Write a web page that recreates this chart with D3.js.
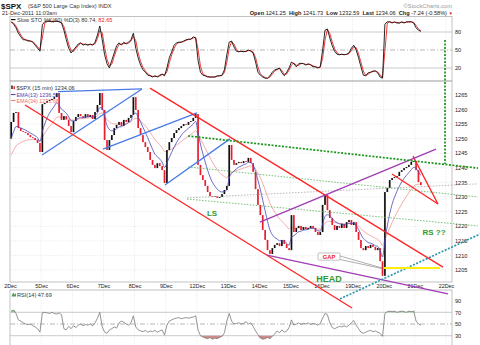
<!DOCTYPE html>
<html><head><meta charset="utf-8">
<script src="https://cdn.jsdelivr.net/npm/d3@7/dist/d3.min.js"></script>
<style>
html,body{margin:0;padding:0;background:#fff;}
svg{display:block;}
text{font-family:"Liberation Sans",Arial,sans-serif;}
</style></head><body>
<svg id="chart" width="480" height="345"></svg>
<script>
// ---------------- DATA ----------------
const dayLabels = ["2Dec","5Dec","6Dec","7Dec","8Dec","9Dec","12Dec","13Dec","14Dec","15Dec","16Dec","19Dec","20Dec","21Dec","22Dec"];
const barsPerDay = 13; // 30-minute steps of the 15-min chart
const openFirst = 1250.0;
const closes = [
 1255.7,1258.8,1259.1,1253.6,1252.6,1252.3,1251.9,1251.2,1250.5,1250.2,1249.5,1248.5,1245.4,
 1261.8,1262.2,1262.9,1263.2,1263.6,1264.2,1265.6,1258.8,1256.4,1257.7,1256.5,1254.3,1252.2,
 1256.0,1257.4,1258.4,1257.7,1257.1,1258.4,1257.4,1258.1,1256.7,1259.1,1261.5,1265.6,1259.8,
 1249.5,1246.1,1249.5,1251.2,1253.6,1254.7,1255.7,1254.3,1256.4,1255.7,1257.1,1258.1,1264.2,
 1259.8,1253.6,1251.2,1248.8,1247.1,1245.4,1242.7,1241.0,1239.9,1241.6,1240.6,1239.2,1234.8,
 1246.1,1248.8,1250.2,1251.9,1252.9,1253.6,1254.3,1255.0,1254.7,1255.7,1256.0,1257.1,1258.4,
 1241.0,1237.5,1235.8,1233.8,1231.7,1230.3,1230.0,1230.3,1229.7,1230.0,1231.0,1232.4,1233.8,
 1247.8,1242.7,1241.0,1241.6,1242.0,1241.6,1242.3,1242.0,1243.4,1241.6,1238.6,1232.7,1227.3,
 1223.8,1218.7,1215.3,1211.8,1210.5,1212.5,1213.6,1214.2,1213.2,1215.3,1213.9,1212.5,1211.8,
 1223.8,1218.0,1219.4,1220.1,1218.7,1219.7,1219.0,1219.4,1220.1,1219.4,1218.0,1217.0,1218.0,
 1227.3,1230.7,1225.5,1222.8,1220.4,1218.7,1220.1,1219.4,1220.8,1219.4,1221.4,1222.1,1220.4,
 1221.4,1218.0,1215.3,1212.5,1211.8,1213.2,1212.5,1213.6,1212.9,1211.8,1212.5,1208.0,1203.0,
 1231.7,1233.1,1235.8,1236.5,1236.8,1237.2,1238.6,1239.2,1239.9,1240.3,1241.0,1242.0,1242.3,
 1239.2,1235.1,1234.06
];
const ema13Seed = 1248, ema34Seed = 1243;
const stoK = [
 97,93,87,78,72,67,67,65,65,63,58,53,48,
 92,97,98,98,97,98,98,97,95,83,67,53,45,
 50,55,60,62,58,60,58,60,58,63,75,90,67,
 42,27,20,33,45,57,62,58,63,60,63,67,78,
 53,37,25,17,13,8,7,5,7,5,8,10,7,
 20,37,47,58,62,63,63,65,67,68,68,72,70,
 33,13,8,7,5,5,5,5,7,7,8,17,42,
 63,65,55,48,47,48,47,48,50,48,45,30,13,
 8,5,3,3,7,13,17,18,20,12,7,13,20,
 30,27,22,27,28,27,25,27,25,22,22,20,22,
 50,83,85,70,57,48,43,42,43,42,43,45,53,
 58,50,37,22,8,7,12,13,15,15,12,5,3,
 93,97,97,95,97,95,95,97,95,97,97,97,95,
 87,83,81
];
const rsiValues = [
 72,74,68,57,55,52,50,49,50,47,45,42,36,
 69,70,69,68,70,68,67,69,66,42,40,46,42,
 47,44,48,50,47,49,48,50,47,52,60,70,45,
 36,34,40,42,45,43,52,55,53,50,48,52,64,
 45,40,38,37,39,36,38,37,39,36,38,40,31,
 48,55,57,59,60,61,59,60,61,60,61,62,64,
 40,30,28,26,25,27,24,26,25,27,29,35,55,
 68,55,50,51,52,50,51,54,50,52,46,38,32,
 26,24,25,27,25,29,33,38,35,40,36,38,44,
 57,48,50,52,49,51,50,52,49,51,50,48,51,
 60,68,66,52,44,42,44,46,45,47,45,48,52,
 56,48,42,36,34,36,38,39,37,38,36,34,29,
 68,71,72,71,72,70,71,72,71,70,72,71,72,
 55,50,48
];
const priceTicks = [1205,1210,1215,1220,1225,1230,1235,1240,1245,1250,1255,1260,1265];
const stoTicks = [20,50,80];
const rsiTicks = [30,50,70,90];
// drawn trend lines: [kind, day1, price1, day2, price2]
const trendLines = [
 ["blue",1.028,1244.4,4.239,1267.0],
 ["blue",1.541,1266.1,4.239,1267.0],
 ["blue",2.986,1246.4,6.004,1258.8],
 ["blue",4.977,1234.1,7.064,1249.9],
 ["lightgreen",5.716,1240.3,15.027,1230.0],
 ["lightgreen",5.684,1229.3,15.027,1220.1],
 ["gray",5.684,1229.7,15.027,1234.5],
 ["red",0.482,1261.5,10.982,1192.0],
 ["red",4.495,1267.3,13.904,1206.0],
 ["red",12.266,1237.9,13.743,1227.6],
 ["red",12.940,1244.0,13.743,1227.6],
 ["purple",8.027,1221.4,13.679,1246.4],
 ["purple",8.252,1210.1,14.064,1196.8],
 ["green",5.716,1250.9,15.027,1239.9],
 ["green",13.968,1283.8,13.968,1241.3],
 ["teal",10.596,1195.1,15.091,1217.3],
 ["yellow",12.009,1205.7,13.807,1205.7],
 ["callout",10.596,1209.8,11.945,1205.7],
 ["callout",10.596,1208.6,11.945,1205.5]
];
const notes = [["LS",6.486,1224.5,8],["HEAD",10.243,1201.9,9],["RS ??",13.615,1218.0,8]];
const gapNote = ["GAP",10.243,1209.6];

// ---------------- DRAW ----------------
const svg = d3.select("#chart");
const L = 10, R = 452;
const sto = {top:16.5, bot:81};
const main = {top:81, bot:282};
const rsiP = {top:290, bot:352};

const x = d3.scaleLinear().domain([0,14]).range([10,446]);
const yP = d3.scaleLinear().domain([1205,1265]).range([270,94.8]);
const yS = d3.scaleLinear().domain([0,100]).range([80,20]);
const yR = d3.scaleLinear().domain([30,70]).range([335.7,312.3]);
const tBar = i => Math.floor(i/barsPerDay) + ((i%barsPerDay)+0.5)/barsPerDay;

// panel frames & grids
const grid = svg.append("g");
[sto, main, rsiP].forEach(p=>{
  grid.selectAll(null).data(d3.range(1,15)).join("line")
    .attr("x1",d=>x(d)).attr("x2",d=>x(d)).attr("y1",p.top).attr("y2",p.bot)
    .attr("stroke","#d8d8d8").attr("stroke-width",0.6).attr("stroke-dasharray","1,1.5");
});
grid.selectAll(null).data(priceTicks).join("line")
  .attr("x1",L).attr("x2",R).attr("y1",d=>yP(d)).attr("y2",d=>yP(d))
  .attr("stroke","#d8d8d8").attr("stroke-width",0.6).attr("stroke-dasharray","1,1.5");
function levels(scale, vals){
  vals.forEach(v=>{
    grid.append("line").attr("x1",L).attr("x2",R).attr("y1",scale(v)).attr("y2",scale(v))
      .attr("stroke", v===50?"#999":"#b4b4b4").attr("stroke-width",0.7)
      .attr("stroke-dasharray", v===50?"5,2,1,2":null);
  });
}
levels(yS,[20,50,80]);
levels(yR,[30,50,70]);
[sto, main, rsiP].forEach(p=>{
  svg.append("rect").attr("x",L).attr("y",p.top).attr("width",R-L).attr("height",p.bot-p.top)
    .attr("fill","none").attr("stroke","#a8a8a8").attr("stroke-width",0.7);
});

// right axes
function rightAxis(scale, ticks, fmt){
  const g = svg.append("g").attr("transform",`translate(${R},0)`)
    .call(d3.axisRight(scale).tickValues(ticks).tickSize(0).tickPadding(3).tickFormat(fmt||d3.format("d")));
  g.select(".domain").remove();
  g.selectAll("text").attr("font-size",5.6).attr("fill","#222").attr("font-family","Liberation Sans, Arial, sans-serif");
}
rightAxis(yS, stoTicks);
rightAxis(yP, priceTicks);
rightAxis(yR, rsiTicks);
// bottom date axis
const xa = svg.append("g").attr("transform",`translate(0,${main.bot})`)
  .call(d3.axisBottom(x).tickValues(d3.range(15)).tickSize(0).tickPadding(2).tickFormat(i=>dayLabels[i]));
xa.select(".domain").remove();
xa.selectAll("text").attr("font-size",5.4).attr("fill","#222").attr("font-family","Liberation Sans, Arial, sans-serif");

// STO panel
const stoD = stoK.map((v,i)=> i===0 ? v : (v + stoK[i-1])/2);
const lineS = d3.line().x((d,i)=>x(tBar(i))).y(d=>yS(d));
svg.append("path").datum(stoD).attr("d",lineS).attr("fill","none").attr("stroke","#ee2222").attr("stroke-width",0.9);
svg.append("path").datum(stoK).attr("d",lineS).attr("fill","none").attr("stroke","#111").attr("stroke-width",0.9);

// RSI panel
const areaHi = d3.area().x((d,i)=>x(tBar(i))).y0(yR(70)).y1(d=>yR(Math.max(d,70)));
const areaLo = d3.area().x((d,i)=>x(tBar(i))).y0(yR(30)).y1(d=>yR(Math.min(d,30)));
svg.append("path").datum(rsiValues).attr("d",areaHi).attr("fill","#8cc88c");
svg.append("path").datum(rsiValues).attr("d",areaLo).attr("fill","#d08a8a");
svg.append("path").datum(rsiValues).attr("d",d3.line().x((d,i)=>x(tBar(i))).y(d=>yR(d)))
  .attr("fill","none").attr("stroke","#7a7a7a").attr("stroke-width",0.8);

// EMAs
function ema(arr, alpha, seed){ let e = seed; return arr.map(v => (e = alpha*v + (1-alpha)*e)); }
const a13 = 1 - Math.pow(1-2/14, 2), a34 = 1 - Math.pow(1-2/35, 2);
const e13 = ema(closes, a13, ema13Seed), e34 = ema(closes, a34, ema34Seed);
const lineP = d3.line().x((d,i)=>x(tBar(i))).y(d=>yP(d)).curve(d3.curveMonotoneX);
svg.append("path").datum(e34).attr("d",lineP).attr("fill","none").attr("stroke","#f3a3a3").attr("stroke-width",0.9);

// candles
const bw = 1.7;
svg.append("g").selectAll("rect").data(closes).join("rect")
  .attr("x",(d,i)=>x(tBar(i))-bw/2)
  .attr("width",bw)
  .attr("y",(d,i)=>{const o = i? closes[i-1]:openFirst; return yP(Math.max(o,d));})
  .attr("height",(d,i)=>{const o = i? closes[i-1]:openFirst; return Math.max(0.8, Math.abs(yP(o)-yP(d)));})
  .attr("fill",(d,i)=>{const o = i? closes[i-1]:openFirst; return d>=o ? "#111" : "#e81e2e";});
svg.append("path").datum(e13).attr("d",lineP).attr("fill","none").attr("stroke","#4848b8").attr("stroke-width",0.8);

// trend lines
const styles = {
  blue:{c:"#4a7ae6",w:1.3}, red:{c:"#ff2424",w:1.3}, purple:{c:"#a03cb4",w:1.3},
  green:{c:"#189418",w:1.7,d:"2,1.5"}, lightgreen:{c:"#5cb45c",w:0.8,d:"1.6,1.4"},
  gray:{c:"#aaaaaa",w:0.8,d:"1.6,1.4"}, teal:{c:"#2a98aa",w:1.7,d:"2,1.5"},
  yellow:{c:"#ffee10",w:1.9}, callout:{c:"#8c8c8c",w:0.7}
};
svg.append("g").selectAll("line").data(trendLines).join("line")
  .attr("x1",d=>x(d[1])).attr("y1",d=>yP(d[2])).attr("x2",d=>x(d[3])).attr("y2",d=>yP(d[4]))
  .attr("stroke",d=>styles[d[0]].c).attr("stroke-width",d=>styles[d[0]].w)
  .attr("stroke-dasharray",d=>styles[d[0]].d||null);

// notes
svg.append("g").selectAll("text").data(notes).join("text")
  .attr("x",d=>x(d[1])).attr("y",d=>yP(d[2])).attr("text-anchor","middle").attr("dominant-baseline","central")
  .attr("font-size",d=>d[3]).attr("font-weight","bold").attr("fill","#2f9a2f").text(d=>d[0]);
const gx = x(gapNote[1]), gy = yP(gapNote[2]);
svg.append("rect").attr("x",gx-11).attr("y",gy-3.6).attr("width",22).attr("height",7.2).attr("rx",1)
  .attr("fill","#fff").attr("stroke","#999").attr("stroke-width",0.6);
svg.append("text").attr("x",gx).attr("y",gy).attr("text-anchor","middle").attr("dominant-baseline","central")
  .attr("font-size",5.8).attr("font-weight","bold").attr("fill","#ee2020").text(gapNote[0]);

// header texts
const hdr = svg.append("g");
hdr.append("text").attr("x",1).attr("y",8.5).attr("font-size",8).attr("font-weight","bold").attr("fill","#111").text("$SPX");
hdr.append("text").attr("x",28).attr("y",8).attr("font-size",5.6).attr("fill","#333").text("(S&P 500 Large Cap Index) INDX");
hdr.append("text").attr("x",2).attr("y",15).attr("font-size",5.6).attr("fill","#333").text("21-Dec-2011 11:03am");
hdr.append("text").attr("x",452).attr("y",7.5).attr("text-anchor","end").attr("font-size",5.8).attr("fill","#999").text("©StockCharts.com");
const q = hdr.append("text").attr("x",447).attr("y",15).attr("text-anchor","end").attr("font-size",5.6).attr("fill","#222");
[["Open ",1],["1241.25  ",0],["High ",1],["1241.73  ",0],["Low ",1],["1232.59  ",0],["Last ",1],["1234.06  ",0],["Chg ",1],["-7.24 (-0.58%)",0]]
  .forEach(([t,b])=>q.append("tspan").attr("font-weight",b?"bold":"normal").attr("xml:space","preserve").text(t));
hdr.append("text").attr("x",448.5).attr("y",15).attr("font-size",4.5).attr("fill","#d02020").text("▼");

// panel legends
const lg = svg.append("g");
lg.append("line").attr("x1",11).attr("x2",15.5).attr("y1",19.6).attr("y2",19.6).attr("stroke","#111").attr("stroke-width",1.2);
const sl = lg.append("text").attr("x",17).attr("y",21.6).attr("font-size",5.6).attr("fill","#333");
sl.append("tspan").text("Slow STO %K(60) %D(3) 80.74, ");
sl.append("tspan").attr("fill","#ee2020").text("82.65");

lg.append("rect").attr("x",11.3).attr("y",85.5).attr("width",1.4).attr("height",3.5).attr("fill","#111");
lg.append("rect").attr("x",13.5).attr("y",86.2).attr("width",1.4).attr("height",3).attr("fill","#e81e2e");
lg.append("text").attr("x",16.5).attr("y",90).attr("font-size",5.6).attr("fill","#333").text("$SPX (15 min) 1234.06");
lg.append("line").attr("x1",11).attr("x2",15.5).attr("y1",94.5).attr("y2",94.5).attr("stroke","#4848b8").attr("stroke-width",1.1);
lg.append("text").attr("x",16.5).attr("y",96.5).attr("font-size",5.4).attr("fill","#4848b8").text("EMA(13) 1236.59");
lg.append("line").attr("x1",11).attr("x2",15.5).attr("y1",100.5).attr("y2",100.5).attr("stroke","#f08080").attr("stroke-width",1.1);
lg.append("text").attr("x",16.5).attr("y",102.5).attr("font-size",5.4).attr("fill","#f07070").text("EMA(34) 1233.68");

lg.append("path").attr("d","M11.5,296.5 L13,292.5 L14.5,294.5 L16,293 L16,296.5 Z").attr("fill","#5a9a5a");
lg.append("text").attr("x",17).attr("y",296.6).attr("font-size",5.6).attr("fill","#333").text("RSI(14) 47.69");
</script>
</body></html>
